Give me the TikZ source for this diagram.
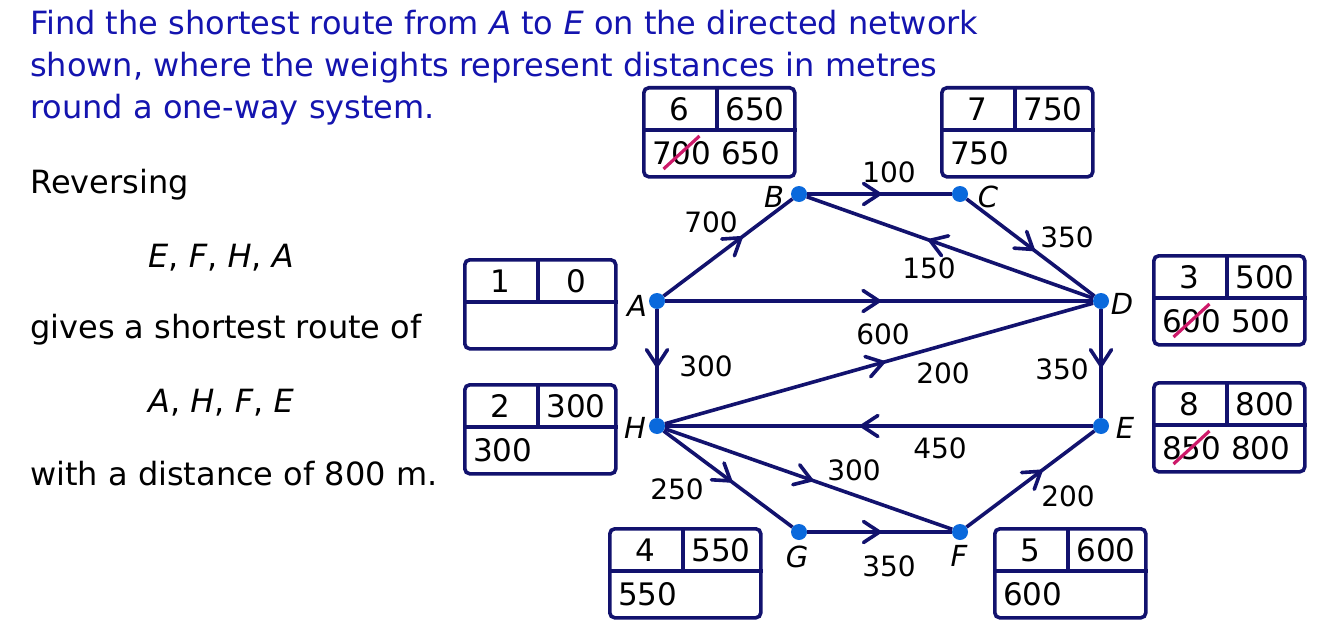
\documentclass[tikz,border=0pt]{standalone}
\usepackage{fontspec}
\setmainfont{DejaVu Sans}
\usetikzlibrary{calc,decorations.markings}
\definecolor{navy}{RGB}{18,18,110}
\definecolor{dotblue}{RGB}{10,105,220}
\definecolor{titleblue}{RGB}{20,20,175}
\definecolor{strike}{RGB}{205,25,105}
\tikzset{
  edgeline/.style={draw=navy, line width=3.6pt},
  midarrow/.style={postaction={decorate}, decoration={markings,
     mark=at position #1 with {\draw[navy, line width=3.6pt, line cap=round, line join=miter] (-16,10.5) -- (0,0) -- (-16,-10.5);}}},
  vdot/.style={circle, fill=dotblue, inner sep=0pt, minimum size=16pt},
  vlabel/.style={font=\fontsize{29}{32}\selectfont\itshape, inner sep=0pt},
  wlabel/.style={font=\fontsize{28}{32}\selectfont, inner sep=0pt},
  dbox/.style={draw=navy, line width=3.6pt, rounded corners=5pt, minimum width=151pt, minimum height=89pt, inner sep=0pt},
  boxline/.style={draw=navy, line width=3.6pt},
  boxtext/.style={font=\fontsize{31}{34}\selectfont, inner sep=0pt},
  strikeline/.style={draw=strike, line width=3.2pt},
  bodytext/.style={font=\fontsize{32}{40}\selectfont, inner sep=0pt, anchor=base west},
}
\newcommand{\dijbox}[6]{%
  \node[dbox, anchor=north west] (#1) at (#2,#3) {};
  \draw[boxline] ($(#1.north west)+(0,44)$) -- ($(#1.north east)+(0,44)$);
  \draw[boxline] ($(#1.north west)+(75,0)$) -- ($(#1.north west)+(75,44)$);
  \node[boxtext] (#1o) at ($(#1.north west)+(37.5,23)$) {#4};
  \node[boxtext] (#1f) at ($(#1.north west)+(113,23)$) {#5};
  \node[boxtext, anchor=west] (#1b) at ($(#1.north west)+(10,67)$) {#6};
}
\newcommand{\strikemid}[1]{%
  \draw[strikeline] ($(#1.west)+(29.5,0)+(-18,16)$) -- ($(#1.west)+(29.5,0)+(18,-17)$);
}
\begin{document}
\begin{tikzpicture}[x=1pt,y=-1pt]
\useasboundingbox (0,0) rectangle (1334,642);
\fill[white] (0,0) rectangle (1334,642);

% body text
\node[bodytext, text=titleblue] (t1) at (30,35) {Find the shortest route from \textit{A} to \textit{E} on the directed network};
\node[bodytext, text=titleblue] (t2) at (30,77) {shown, where the weights represent distances in metres};
\node[bodytext, text=titleblue] (t3) at (30,118) {round a one-way system.};
\node[bodytext] (t4) at (30,193) {Reversing};
\node[bodytext] (t5) at (148,267) {\textit{E}, \textit{F}, \textit{H}, \textit{A}};
\node[bodytext] (t6) at (30,338) {gives a shortest route of};
\node[bodytext] (t7) at (148,412) {\textit{A}, \textit{H}, \textit{F}, \textit{E}};
\node[bodytext] (t8) at (30,485) {with a distance of 800 m.};

% vertices
\node[vdot] (A) at (657,301) {};
\node[vdot] (B) at (799,194) {};
\node[vdot] (C) at (960,194) {};
\node[vdot] (D) at (1101,301) {};
\node[vdot] (E) at (1101,426) {};
\node[vdot] (F) at (960,532) {};
\node[vdot] (G) at (799,532) {};
\node[vdot] (H) at (657,426) {};

% edges
\draw[edgeline, midarrow=0.6] (A) -- (B);
\draw[edgeline, midarrow=0.5] (B) -- (C);
\draw[edgeline, midarrow=0.52] (C) -- (D);
\draw[edgeline, midarrow=0.57] (D) -- (B);
\draw[edgeline, midarrow=0.5] (A) -- (D);
\draw[edgeline, midarrow=0.52] (A) -- (H);
\draw[edgeline, midarrow=0.51] (H) -- (D);
\draw[edgeline, midarrow=0.52] (D) -- (E);
\draw[edgeline, midarrow=0.54] (E) -- (H);
\draw[edgeline, midarrow=0.52] (H) -- (G);
\draw[edgeline, midarrow=0.51] (H) -- (F);
\draw[edgeline, midarrow=0.5] (G) -- (F);
\draw[edgeline, midarrow=0.58] (F) -- (E);

% vertex labels
\node[vlabel] (lA) at (637,306) {A};
\node[vlabel] (lB) at (774,197) {B};
\node[vlabel] (lC) at (988,197) {C};
\node[vlabel] (lD) at (1122,304) {D};
\node[vlabel] (lE) at (1125,428) {E};
\node[vlabel] (lF) at (959,556) {F};
\node[vlabel] (lG) at (797,557) {G};
\node[vlabel] (lH) at (635,428) {H};

% weights
\node[wlabel] (wAB) at (711,222) {700};
\node[wlabel] (wBC) at (889,172) {100};
\node[wlabel] (wCD) at (1067,237) {350};
\node[wlabel] (wDB) at (929,268) {150};
\node[wlabel] (wAD) at (883,334) {600};
\node[wlabel] (wHD) at (943,373) {200};
\node[wlabel] (wDE) at (1062,369) {350};
\node[wlabel] (wEH) at (940,448) {450};
\node[wlabel] (wFE) at (1068,496) {200};
\node[wlabel] (wGF) at (889,566) {350};
\node[wlabel] (wAH) at (706,366) {300};
\node[wlabel] (wHG) at (677,489) {250};
\node[wlabel] (wHF) at (854,470) {300};

% boxes
\dijbox{b1}{463}{258}{1}{0}{}
\dijbox{b2}{463}{383}{2}{300}{300}
\dijbox{b4}{608}{527}{4}{550}{550}
\dijbox{b6}{642}{86}{6}{650}{700 650}
\dijbox{b7}{940}{86}{7}{750}{750}
\dijbox{b3}{1152}{254}{3}{500}{600 500}
\dijbox{b8}{1152}{381}{8}{800}{850 800}
\dijbox{b5}{993}{527}{5}{600}{600}
\strikemid{b6b}
\strikemid{b3b}
\strikemid{b8b}
\end{tikzpicture}
\end{document}
